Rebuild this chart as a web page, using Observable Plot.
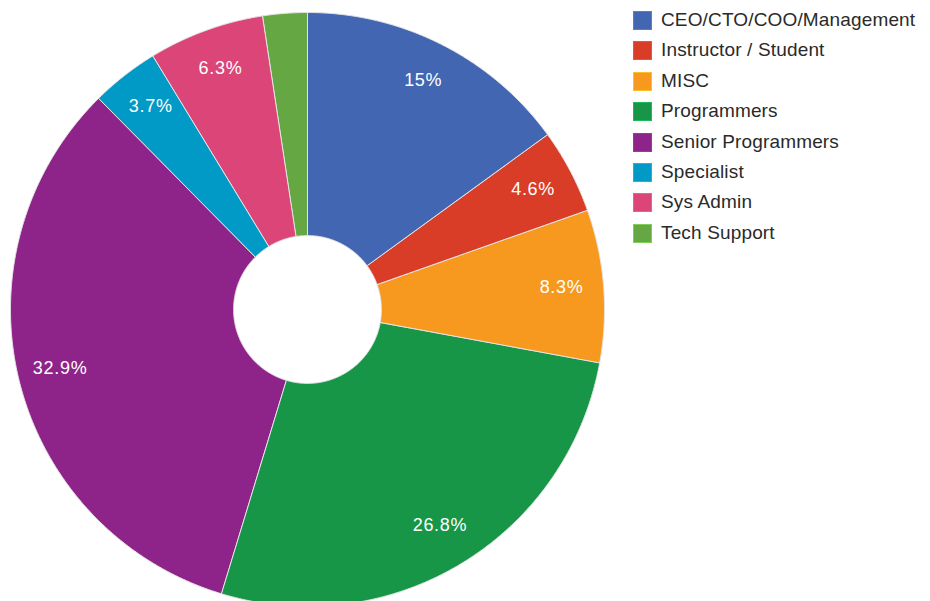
<!DOCTYPE html>
<html>
<head>
<meta charset="utf-8">
<script src="https://cdn.jsdelivr.net/npm/d3@7"></script>
<script src="https://cdn.jsdelivr.net/npm/@observablehq/plot@0.6"></script>
<style>
  body { margin: 0; background: #fff; }
  #wrap { position: relative; width: 930px; height: 601px; overflow: hidden; font-family: "Liberation Sans", Arial, sans-serif; }
  #legend { position: absolute; left: 633px; top: 11px; }
  .row { position: absolute; left: 0; height: 19px; white-space: nowrap; }
  .sw { position: absolute; left: 0; top: 0; width: 19px; height: 19px; box-sizing: border-box; }
  .lb { position: absolute; left: 28px; top: -2px; font-size: 19px; line-height: 22px; color: #2a2a2a; letter-spacing: 0.15px; }
</style>
</head>
<body>
<div id="wrap"><div id="legend"></div></div>
<script>
const categories = ["CEO/CTO/COO/Management", "Instructor / Student", "MISC", "Programmers", "Senior Programmers", "Specialist", "Sys Admin", "Tech Support"];
const values = [15.0, 4.6, 8.3, 26.8, 32.9, 3.7, 6.3, 2.4];
const colors = ["#4266b2", "#d93d27", "#f7991e", "#169646", "#8e2389", "#0199c6", "#dc4577", "#65a843"];

const innerR = 0.249;
const labelR = 0.858;

const pie = d3.pie().sort(null).value(d => d.value);
const arcs = pie(categories.map((c, i) => ({category: c, value: values[i]})));

// ring polygons in unit coordinates (angle 0 at top, clockwise)
const ring = [];
arcs.forEach(a => {
  const n = Math.max(4, Math.ceil((a.endAngle - a.startAngle) / 0.005));
  for (let k = 0; k <= n; k++) {
    const t = a.startAngle + (a.endAngle - a.startAngle) * k / n;
    ring.push({category: a.data.category, x: Math.sin(t), y: Math.cos(t)});
  }
  for (let k = n; k >= 0; k--) {
    const t = a.startAngle + (a.endAngle - a.startAngle) * k / n;
    ring.push({category: a.data.category, x: innerR * Math.sin(t), y: innerR * Math.cos(t)});
  }
});

const labels = arcs.filter(a => a.data.value >= 3).map(a => {
  const m = (a.startAngle + a.endAngle) / 2;
  const v = a.data.value;
  return {x: labelR * Math.sin(m), y: labelR * Math.cos(m), text: (Number.isInteger(v) ? v : v.toFixed(1)) + "%"};
});

const cx = 307, cy = 309, R = 297;
const chart = Plot.plot({
  width: 930,
  height: 601,
  margin: 0,
  x: {domain: [-1, 1], range: [cx - R, cx + R], axis: null},
  y: {domain: [-1, 1], range: [cy + R, cy - R], axis: null},
  color: {domain: categories, range: colors},
  style: {background: "transparent", fontFamily: "'Liberation Sans', Arial, sans-serif"},
  marks: [
    Plot.line(ring, {x: "x", y: "y", z: "category", fill: "category", stroke: "#e4e4e4", strokeWidth: 1, curve: "linear-closed"}),
    Plot.text(labels, {x: "x", y: "y", text: "text", fill: "white", fontSize: 18, dy: -2, textAnchor: "middle", lineAnchor: "middle", style: "letter-spacing: 0.7px"})
  ]
});
chart.style.position = "absolute";
chart.style.left = "0";
chart.style.top = "0";
chart.querySelectorAll("text").forEach(t => t.style.letterSpacing = "0.7px");
document.getElementById("wrap").prepend(chart);

const legend = document.getElementById("legend");
categories.forEach((c, i) => {
  const row = document.createElement("div");
  row.className = "row";
  row.style.top = (i * 30.4) + "px";
  const sw = document.createElement("div");
  sw.className = "sw";
  sw.style.background = colors[i];
  sw.style.border = "1px solid " + d3.color(colors[i]).brighter(0.6);
  const lb = document.createElement("div");
  lb.className = "lb";
  lb.textContent = c;
  row.appendChild(sw);
  row.appendChild(lb);
  legend.appendChild(row);
});
</script>
</body>
</html>
